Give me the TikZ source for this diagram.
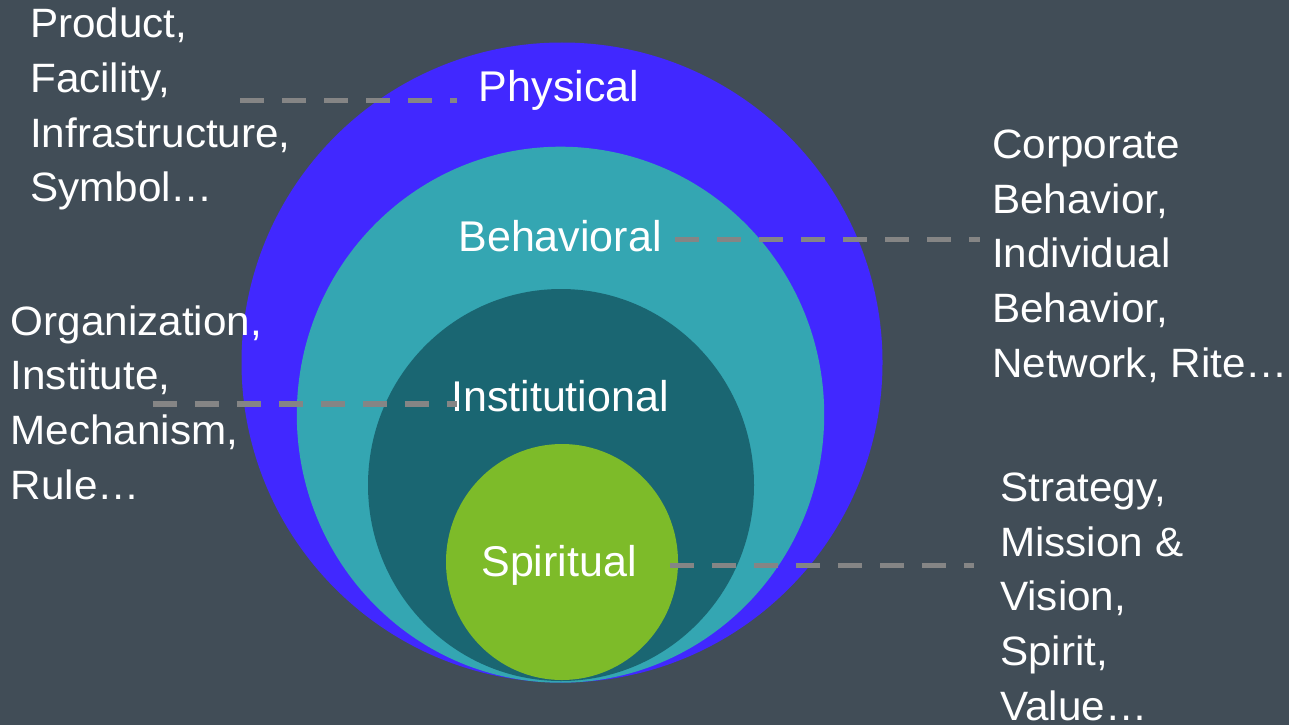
\documentclass[tikz,border=0pt]{standalone}
\usepackage{fontspec}
\setmainfont{Liberation Sans}
\newfontfamily\sidefont{Liberation Sans}[FakeStretch=1.03]
\definecolor{bg}{HTML}{414D57}
\definecolor{physcol}{HTML}{4128FF}
\definecolor{behavcol}{HTML}{34A6B2}
\definecolor{instcol}{HTML}{1A6672}
\definecolor{spiritcol}{HTML}{7DBB29}
\definecolor{leadergray}{HTML}{858585}
\begin{document}
\begin{tikzpicture}[x=1pt,y=-1pt,
  side/.style={text=white, align=left, inner sep=0pt, anchor=base west,
    font=\sidefont\fontsize{41}{54.6}\selectfont},
  ring/.style={text=white, inner sep=0pt, anchor=base,
    font=\fontsize{43}{50}\selectfont},
  leader/.style={draw=leadergray, line width=5.5pt, dash pattern=on 24pt off 18pt}]
\fill[bg] (0,0) rectangle (1289,725);
\useasboundingbox (0,0) rectangle (1289,725);
% rings
\fill[physcol] (562,362.5) ellipse [x radius=320.5pt, y radius=320pt];
\fill[behavcol] (560.5,414.7) ellipse [x radius=263.7pt, y radius=268pt];
\fill[instcol] (561,485) ellipse [x radius=193pt, y radius=196pt];
\fill[spiritcol] (562,562) ellipse [x radius=116pt, y radius=118pt];
% ring labels
\node[ring] (physical) at (559,101.5) {Physical};
\node[ring] (behavioral) at (560,251) {Behavioral};
\node[ring] (institutional) at (560,411.6) {Institutional};
\node[ring] (spiritual) at (559,576) {Spiritual};
% side texts (anchored at the baseline of their last line)
\node[side] (phystext) at (30,201.7) {Product,\\Facility,\\Infrastructure,\\Symbol…};
\node[side] (insttext) at (10.5,499) {Organization,\\Institute,\\Mechanism,\\Rule…};
\node[side] (behavtext) at (992,377) {Corporate\\Behavior,\\Individual\\Behavior,\\Network, Rite…};
\node[side] (spirittext) at (1000,720) {Strategy,\\Mission \&\\Vision,\\Spirit,\\Value…};
% leader lines
\coordinate (pA) at (240,100.7);
\coordinate (pB) at (457,100.7);
\coordinate (bA) at (675,239.5);
\coordinate (bB) at (979.5,239.5);
\coordinate (iA) at (152.7,404);
\coordinate (iB) at (457,404);
\coordinate (sA) at (669.8,565.5);
\coordinate (sB) at (974.4,565.5);
\draw[leader] (pA) -- (pB);
\draw[leader] (bA) -- (bB);
\draw[leader] (iA) -- (iB);
\draw[leader] (sA) -- (sB);
\end{tikzpicture}
\end{document}
